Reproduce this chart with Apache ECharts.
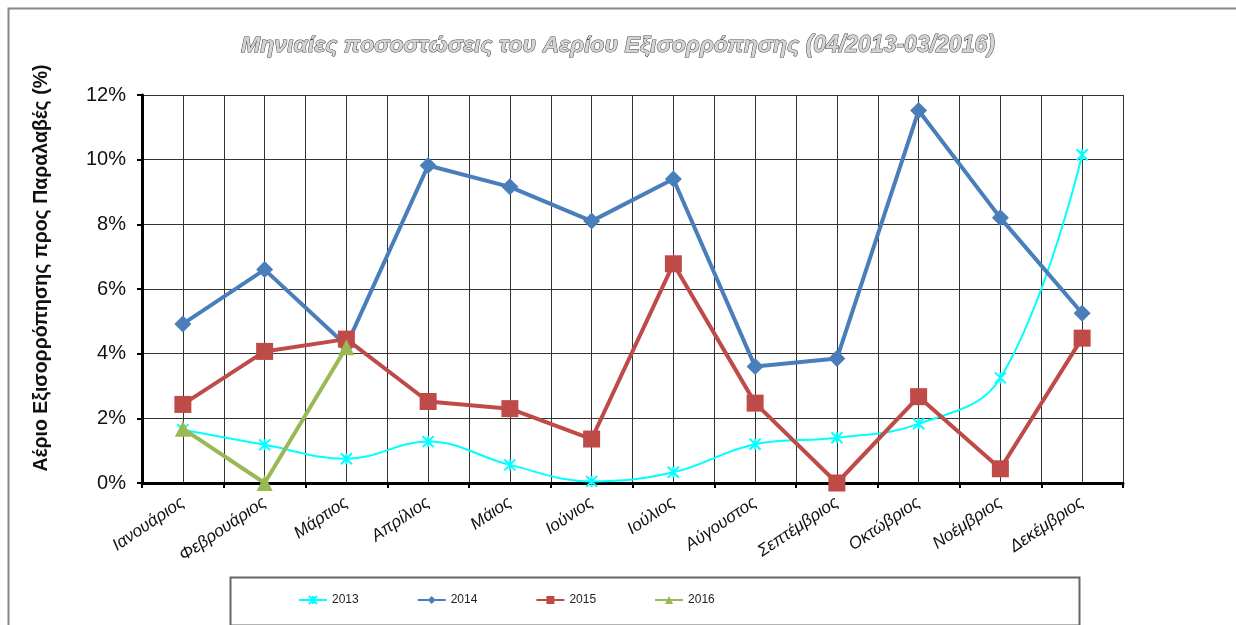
<!DOCTYPE html>
<html>
<head>
<meta charset="utf-8">
<title>Αέριο Εξισορρόπησης</title>
<script src="https://cdn.jsdelivr.net/npm/echarts@6/dist/echarts.min.js"></script>
<style>
  html, body { margin: 0; padding: 0; background: #fff; }
</style>
</head>
<body>
<div id="main" style="width:1236px;height:625px;"></div>
<script>
// μήνες (κατηγορίες του άξονα x)
var months = ['Ιανουάριος', 'Φεβρουάριος', 'Μάρτιος', 'Απρίλιος', 'Μάιος', 'Ιούνιος',
              'Ιούλιος', 'Αύγουστος', 'Σεπτέμβριος', 'Οκτώβριος', 'Νοέμβριος', 'Δεκέμβριος'];
// ποσοστά (%) ανά έτος, διαβασμένα από το γράφημα
var y2013 = [1.65, 1.18, 0.75, 1.28, 0.56, 0.05, 0.33, 1.2, 1.4, 1.83, 3.25, 10.15];
var y2014 = [4.92, 6.6, 4.25, 9.82, 9.16, 8.1, 9.4, 3.6, 3.85, 11.52, 8.2, 5.25];
var y2015 = [2.43, 4.07, 4.45, 2.52, 2.3, 1.36, 6.78, 2.47, 0, 2.67, 0.44, 4.48];
var y2016 = [1.68, 0, 4.2];
var yTicks = [0, 2, 4, 6, 8, 10, 12];

var font = 'Liberation Sans, Arial, sans-serif';
var myChart = echarts.init(document.getElementById('main'));

var option = {
    backgroundColor: '#fff',
    animation: false,
    title: {
        text: 'Μηνιαίες ποσοστώσεις του Αερίου Εξισορρόπησης (04/2013-03/2016)',
        left: 'center',
        top: 29,
        textStyle: {
            fontFamily: font, fontSize: 23, fontStyle: 'italic', fontWeight: 'bold',
            color: '#d4d4d4', textBorderColor: '#444', textBorderWidth: 1
        }
    },
    legend: {
        left: 293,
        top: 589,
        itemWidth: 28,
        itemHeight: 10,
        itemGap: 58,
        textStyle: { fontFamily: font, fontSize: 12, color: '#222' },
        data: ['2013', '2014', '2015', '2016']
    },
    grid: { left: 142, right: 113, top: 95, bottom: 142 },
    xAxis: [{
        type: 'category',
        data: months,
        boundaryGap: true,
        axisLine: { show: true, lineStyle: { color: '#000', width: 3 } },
        axisTick: { show: true, length: 5, lineStyle: { color: '#000', width: 2 } },
        axisLabel: {
            interval: 0, rotate: 34, margin: 18,
            fontFamily: font, fontSize: 17, fontStyle: 'italic', color: '#111'
        },
        splitLine: { show: false }
    }, {
        // βοηθητικός άξονας μόνο για τις κάθετες γραμμές πλέγματος
        type: 'value',
        position: 'top',
        min: 0, max: 24, interval: 1,
        axisLine: { show: false },
        axisTick: { show: false },
        axisLabel: { show: false },
        splitLine: { show: true, lineStyle: { color: '#333', width: 1 } }
    }],
    yAxis: {
        type: 'value',
        min: yTicks[0], max: yTicks[yTicks.length - 1], interval: 2,
        axisLine: { show: true, lineStyle: { color: '#000', width: 3 } },
        axisTick: { show: true, length: 5, lineStyle: { color: '#000', width: 2 } },
        axisLabel: {
            margin: 16, fontFamily: font, fontSize: 20, color: '#111',
            formatter: '{value}%'
        },
        splitLine: { show: true, lineStyle: { color: '#333', width: 1 } }
    },
    graphic: [
        { type: 'rect', left: 6, top: 6, silent: true,
          shape: { width: 1240, height: 640 },
          style: { fill: 'none', stroke: '#888', lineWidth: 2 } },
        { type: 'rect', left: 228, top: 575, silent: true,
          shape: { width: 849, height: 48 },
          style: { fill: 'none', stroke: '#666', lineWidth: 2 } },
        { type: 'text', x: 42, y: 268, rotation: Math.PI / 2, silent: true,
          style: {
              text: 'Αέριο Εξισορρόπησης προς Παραλαβές (%)',
              fontFamily: font, fontSize: 19.5, fontWeight: 'bold', fill: '#111',
              align: 'center', verticalAlign: 'middle'
          } }
    ],
    series: [{
        name: '2013', type: 'line', data: y2013, smooth: 0.4,
        symbol: 'path://M0,0L10,10M10,0L0,10M5,0L5,10', symbolSize: 11,
        itemStyle: { color: '#00FFFF', borderColor: '#00FFFF', borderWidth: 2 },
        lineStyle: { color: '#00FFFF', width: 2 }
    }, {
        name: '2014', type: 'line', data: y2014,
        symbol: 'diamond', symbolSize: 17,
        itemStyle: { color: '#4A7EBB' },
        lineStyle: { color: '#4A7EBB', width: 4 }
    }, {
        name: '2015', type: 'line', data: y2015,
        symbol: 'rect', symbolSize: 17,
        itemStyle: { color: '#BE4B48' },
        lineStyle: { color: '#BE4B48', width: 4 }
    }, {
        name: '2016', type: 'line', data: y2016,
        symbol: 'triangle', symbolSize: 16,
        itemStyle: { color: '#98B954' },
        lineStyle: { color: '#98B954', width: 4 }
    }]
};

myChart.setOption(option);
</script>
</body>
</html>
